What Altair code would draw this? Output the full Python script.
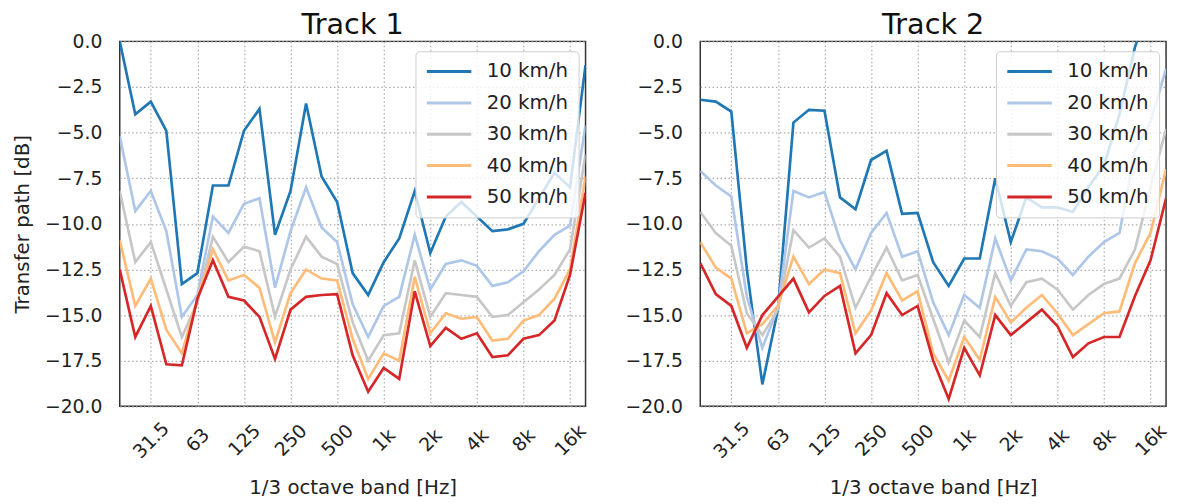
import altair as alt
import pandas as pd

bands = ['20', '25', '31.5', '40', '50', '63', '80', '100', '125', '160', '200', '250',
         '315', '400', '500', '630', '800', '1k', '1.25k', '1.6k', '2k', '2.5k', '3.15k',
         '4k', '5k', '6.3k', '8k', '10k', '12.5k', '16k', '20k']
tick_labels = ['31.5', '63', '125', '250', '500', '1k', '2k', '4k', '8k', '16k']
y_ticks = [0.0, -2.5, -5.0, -7.5, -10.0, -12.5, -15.0, -17.5, -20.0]
speeds = ['10 km/h', '20 km/h', '30 km/h', '40 km/h', '50 km/h']
colors = ['#1f77b4', '#aec7e8', '#c7c7c7', '#ffbb78', '#d62728']

# Track 1
t1_10 = [0.0, -4.0, -3.3, -4.9, -13.3, -12.7, -7.9, -7.9, -4.9, -3.7, -10.6, -8.2, -3.4, -7.4,
         -8.8, -12.7, -13.9, -12.1, -10.8, -8.2, -11.6, -9.6, -8.8, -9.6, -10.4, -10.3, -10.0,
         -8.6, -7.2, -8.0, -1.3]
t1_20 = [-5.2, -9.3, -8.2, -10.4, -15.1, -13.9, -9.6, -10.5, -8.9, -8.6, -13.5, -10.4, -8.0,
         -10.2, -11.0, -14.4, -16.2, -14.5, -14.0, -10.6, -13.6, -12.2, -12.0, -12.3, -13.4,
         -13.2, -12.6, -11.5, -10.6, -10.1, -4.6]
t1_30 = [-8.2, -12.1, -11.0, -13.6, -16.2, -14.3, -10.7, -12.1, -11.25, -11.5, -15.1, -12.5,
         -10.7, -11.8, -12.2, -15.4, -17.5, -16.1, -16.0, -12.0, -15.1, -13.8, -13.9, -14.0,
         -15.1, -15.0, -14.3, -13.6, -12.8, -11.4, -6.2]
t1_40 = [-10.9, -14.5, -13.0, -15.8, -17.1, -14.1, -11.4, -13.1, -12.8, -13.5, -16.5, -13.8,
         -12.5, -13.0, -13.1, -16.3, -18.5, -17.1, -17.5, -12.9, -16.0, -14.9, -15.2, -15.1,
         -16.4, -16.3, -15.3, -15.0, -14.1, -12.5, -7.4]
t1_50 = [-12.5, -16.2, -14.5, -17.7, -17.75, -14.1, -12.0, -14.0, -14.2, -15.1, -17.4, -14.7,
         -14.0, -13.9, -13.85, -17.2, -19.2, -17.9, -18.5, -13.7, -16.7, -15.7, -16.3, -16.0,
         -17.3, -17.2, -16.3, -16.1, -15.3, -12.8, -8.3]

# Track 2
t2_10 = [-3.2, -3.3, -3.85, -12.5, -18.8, -14.7, -4.45, -3.75, -3.8, -8.55, -9.2, -6.5, -6.0,
         -9.45, -9.4, -12.1, -13.4, -11.9, -11.9, -7.5, -11.0, -8.55, -9.1, -9.1, -9.35, -8.0,
         -6.8, -4.0, -0.3, 2.0, 4.0]
t2_20 = [-7.1, -7.9, -8.5, -14.0, -16.8, -14.6, -8.2, -8.55, -8.25, -10.9, -12.5, -10.5, -9.4,
         -11.8, -11.5, -14.3, -16.1, -13.9, -14.6, -10.8, -13.1, -11.4, -11.5, -11.9, -12.8,
         -11.8, -11.0, -10.5, -6.0, -4.4, -1.5]
t2_30 = [-9.35, -10.5, -11.2, -14.9, -16.1, -14.7, -10.35, -11.3, -10.8, -11.8, -14.6, -12.9,
         -11.3, -13.1, -12.8, -15.2, -17.6, -15.3, -16.2, -12.7, -14.5, -13.2, -13.0, -13.6,
         -14.7, -13.9, -13.3, -13.0, -11.4, -8.0, -4.8]
t2_40 = [-11.0, -12.4, -13.0, -16.0, -15.5, -14.5, -11.8, -13.3, -12.5, -12.7, -16.0, -14.75,
         -12.7, -14.2, -13.7, -17.1, -18.6, -16.2, -17.45, -14.0, -15.4, -14.6, -13.9, -14.9,
         -16.1, -15.5, -14.9, -14.8, -12.15, -10.5, -7.0]
t2_50 = [-12.15, -13.85, -14.5, -16.8, -15.0, -14.0, -13.0, -14.85, -13.95, -13.4, -17.1, -16.1,
         -13.8, -15.0, -14.5, -17.5, -19.6, -16.8, -18.3, -15.0, -16.1, -15.4, -14.7, -15.6,
         -17.3, -16.55, -16.2, -16.2, -13.95, -12.0, -8.6]

FONT = 'DejaVu Sans'


def long_df(series):
    rows = []
    for sp, vals in zip(speeds, series):
        for b, v in zip(bands, vals):
            rows.append({'band': b, 'speed': sp, 'value': v})
    return pd.DataFrame(rows)


def panel(title, series, show_ytitle):
    df = long_df(series)
    yaxis = alt.Axis(values=y_ticks, format='.1f', grid=True, ticks=False, tickSize=0,
                     labelPadding=18, titlePadding=12, domain=False)
    return alt.Chart(df).mark_line(strokeWidth=2.7, clip=True).encode(
        x=alt.X('band:N', sort=bands, scale=alt.Scale(type='point', padding=0),
                title='1/3 octave band [Hz]',
                axis=alt.Axis(values=tick_labels, labelAngle=-45, labelAlign='center',
                              labelBaseline='middle', labelPadding=34, ticks=False,
                              tickSize=0, grid=True, domain=False, titlePadding=16)),
        y=alt.Y('value:Q', scale=alt.Scale(domain=[-20, 0], nice=False, zero=False),
                title=('Transfer path [dB]' if show_ytitle else ''), axis=yaxis),
        color=alt.Color('speed:N', scale=alt.Scale(domain=speeds, range=colors),
                        legend=alt.Legend(title=None, orient='none', legendX=299, legendY=10,
                                          symbolType='stroke', symbolSize=2025,
                                          symbolStrokeWidth=3, clipHeight=21,
                                          rowPadding=10.7, labelOffset=14, padding=10,
                                          labelFontSize=20, labelFont=FONT,
                                          labelColor='#222', fillColor='rgba(255,255,255,0.8)',
                                          strokeColor='#cccccc', cornerRadius=4)),
        order=alt.Order('speed:N'),
    ).properties(width=471, height=369,
                 title=alt.TitleParams(title, fontSize=29, font=FONT, fontWeight='normal',
                                       color='#111', frame='group', anchor='middle', offset=-8))


p1 = panel('Track 1', [t1_10, t1_20, t1_30, t1_40, t1_50], True)
p2 = panel('Track 2', [t2_10, t2_20, t2_30, t2_40, t2_50], False)

chart = alt.hconcat(p1, p2, spacing=34).resolve_legend(color='independent').properties(
    padding={'left': 4, 'top': 0, 'right': 0, 'bottom': 0}
).configure_view(stroke='#333333', strokeWidth=1.5).configure_axis(
    labelFont=FONT, titleFont=FONT, labelFontSize=19, titleFontSize=20,
    labelColor='#222', titleColor='#222', titleFontWeight='normal',
    gridColor='#aaaaaa', gridDash=[1.5, 2.5], gridWidth=1.2
)

chart.save('out.html', embed_options={'renderer': 'svg', 'actions': False})
